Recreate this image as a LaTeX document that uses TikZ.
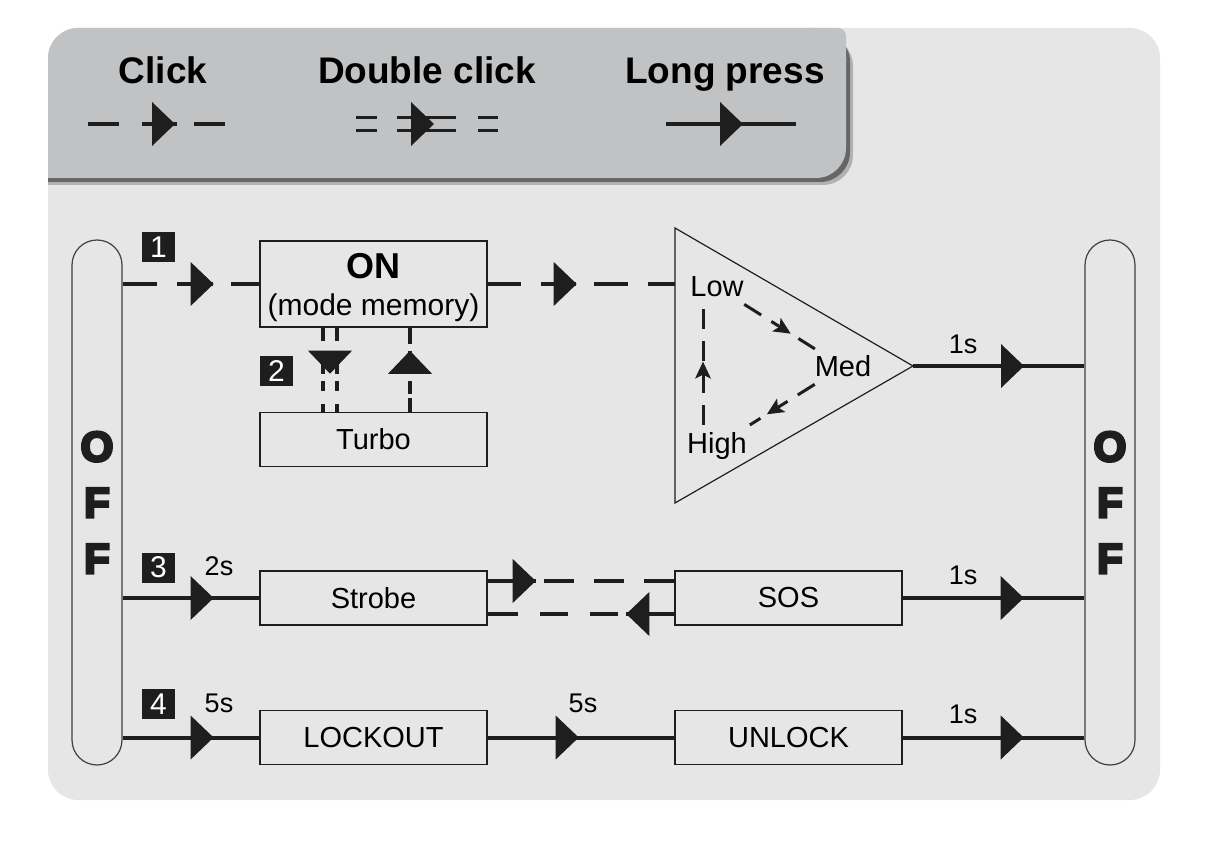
\documentclass[tikz,border=0pt]{standalone}
\usepackage{fontspec}
\setmainfont{Liberation Sans}
\newfontfamily\heavyfont{Liberation Sans Bold}
\newcommand{\heavyoff}{\special{pdf:literal direct q 2 Tr 1.4 w 0.118 0.118 0.118 RG}O\\F\\F\special{pdf:literal direct Q}}
\usepackage{tikz}
\usetikzlibrary{calc, decorations.markings, positioning}

\definecolor{panelgray}{HTML}{E6E6E6}
\definecolor{legendgray}{HTML}{C1C2C4}
\definecolor{inkgray}{HTML}{1E1E1E}

\tikzset{
  modebox/.style={draw=inkgray, line width=0.7pt, fill=panelgray, minimum width=113.5pt, minimum height=27pt, inner sep=0pt, font=\fontsize{14.5}{17}\selectfont},
  pill/.style={draw=inkgray!85, line width=0.6pt, fill=panelgray, rounded corners=12.5pt, minimum width=25pt, minimum height=262.5pt, inner sep=0pt, align=center, text=inkgray, font=\heavyfont\fontsize{21}{28}\selectfont},
  numbox/.style={fill=inkgray, text=white, minimum width=16.5pt, minimum height=15pt, inner sep=0pt, font=\fontsize{15}{15}\selectfont},
  timelabel/.style={inner sep=0pt, font=\fontsize{13.5}{15}\selectfont},
  legendhead/.style={inner sep=0pt, anchor=base, font=\bfseries\fontsize{18.5}{20}\selectfont},
  levelname/.style={anchor=base, font=\fontsize{14.5}{17}\selectfont},
  link/.style={line width=2pt, draw=inkgray},
  twin/.style={double=panelgray, double distance=5pt},
  cycleline/.style={line width=1.5pt, draw=inkgray, dash pattern=on 10pt off 6pt},
  headat/.style={postaction={decorate}, decoration={markings, mark=at position #1 with {\fill[inkgray] (0,-22) -- (23,0) -- (0,22) -- cycle;}}},
  minihead/.style={postaction={decorate}, decoration={markings, mark=at position #1 with {\fill[inkgray] (-8,-8) -- (9,0) -- (-8,8) -- (-4,0) -- cycle;}}},
}

\begin{document}
\begin{tikzpicture}[x=0.5pt, y=-0.5pt]
\useasboundingbox (0,0) rectangle (1210,844);

% panel and legend
\fill[panelgray, rounded corners=15pt] (48,28) rectangle (1160,800);
\fill[black!30, rounded corners=15pt] (54,36) rectangle (853,185);
\fill[black!30] (48,150) rectangle (100,185);
\fill[black!60, rounded corners=15pt] (51,32) rectangle (850,182);
\fill[black!60] (48,150) rectangle (100,182);
\fill[legendgray, rounded corners=15pt] (48,28) rectangle (846,178);
\fill[legendgray] (48,140) rectangle (90,178);
\fill[legendgray, rounded corners=4pt] (800,28) rectangle (846,70);

\node[legendhead] (hclick) at (163,84) {Click};
\node[legendhead] (hdouble) at (427,84) {Double click};
\node[legendhead] (hlong) at (725,84) {Long press};

\draw[link, dash pattern=on 15.5pt off 11.5pt on 17.5pt off 8.5pt on 15.5pt, headat=32pt] (88,124) -- (225,124);
\draw[link, line width=1.8pt, double=legendgray, double distance=4.7pt, dash pattern=on 10.5pt off 10pt on 29.5pt off 11pt on 10pt, headat=27.5pt] (356,124) -- (498,124);
\draw[link, headat=27pt] (666,124) -- (796,124);

% OFF pills
\node[pill] (offL) at (97,502.5) {\heavyoff};
\node[pill] (offR) at (1110,502.5) {\heavyoff};

% mode boxes
\node[modebox, minimum height=43pt, align=center, font=\fontsize{15}{18.5}\selectfont] (on) at (373.5,284) {{\bfseries\fontsize{18}{18.5}\selectfont\rule{0pt}{16.5pt}ON}\\(mode memory)};
\node[modebox] (turbo) at (373.5,439.5) {Turbo};
\node[modebox] (strobe) at (373.5,598) {Strobe};
\node[modebox] (sos) at (788.5,598) {SOS};
\node[modebox] (lockout) at (373.5,737.5) {LOCKOUT};
\node[modebox] (unlock) at (788.5,737.5) {UNLOCK};

% brightness triangle
\coordinate (triNW) at (675,228);
\coordinate (triSW) at (675,503);
\coordinate (triE) at (913,366);
\draw[inkgray, line width=0.6pt, fill=panelgray] (triNW) -- (triE) -- (triSW) -- cycle;
\node[levelname] (low) at (717,297) {Low};
\node[levelname] (med) at (843,377) {Med};
\node[levelname] (high) at (717,453) {High};
\draw[cycleline, minihead=0.55] (low) -- (med);
\draw[cycleline, minihead=0.62] (med) -- (high);
\draw[cycleline, minihead=0.45] ($(high.north)+(-14,0)$) -- ($(low.south)+(-14,0)$);

% row 1
\node[numbox] (n1) at (158.5,247.5) {1};
\draw[link, dash pattern=on 17pt off 10pt on 18pt off 9pt on 15pt, headat=34pt] (offL.east |- on.west) -- (on.west);
\draw[link, dash pattern=on 16.5pt off 10pt on 17.5pt off 9pt on 17pt off 10pt on 14pt, headat=33pt] (on.east) -- (on.east -| triNW);
\draw[link, headat=44pt] (triE) -- (offR.west |- triE);
\node[timelabel] (t1) at (963,344) {1s};

% turbo
\node[numbox] (n2) at (276.5,371) {2};
\draw[link, twin, dash pattern=on 6.5pt off 5pt on 11.5pt off 3.5pt on 5pt off 6.5pt on 5pt, headat=11.5pt] ($(on.south)+(-43.5,0)$) -- ($(turbo.north)+(-43.5,0)$);
\draw[link, dash pattern=on 7pt off 2pt on 6.5pt off 3.5pt on 11.5pt off 3.5pt on 9pt, headat=19pt] ($(turbo.north)+(36.5,0)$) -- ($(on.south)+(36.5,0)$);

% row 3
\node[numbox] (n3) at (158.5,567.5) {3};
\node[timelabel] (t2) at (219,566) {2s};
\draw[link, headat=34pt] (offL.east |- strobe.west) -- (strobe.west);
\draw[link, dash pattern=on 24pt off 4pt on 15pt off 10pt on 15pt off 10pt on 16pt, headat=12.5pt] ($(strobe.east)+(0,-17)$) -- ($(sos.west)+(0,-17)$);
\draw[link, dash pattern=on 24pt off 4pt on 14pt off 11pt on 14pt off 11pt on 16pt, headat=12.5pt] ($(sos.west)+(0,16)$) -- ($(strobe.east)+(0,16)$);
\draw[link, headat=49pt] (sos.east) -- (offR.west |- sos.east);
\node[timelabel] (t3) at (963,575) {1s};

% row 4
\node[numbox] (n4) at (158.5,704) {4};
\node[timelabel] (t4) at (219,703) {5s};
\draw[link, headat=34pt] (offL.east |- lockout.west) -- (lockout.west);
\draw[link, headat=34pt] (lockout.east) -- (unlock.west);
\node[timelabel] (t5) at (583,703) {5s};
\draw[link, headat=49pt] (unlock.east) -- (offR.west |- unlock.east);
\node[timelabel] (t6) at (963,714) {1s};
\end{tikzpicture}
\end{document}
